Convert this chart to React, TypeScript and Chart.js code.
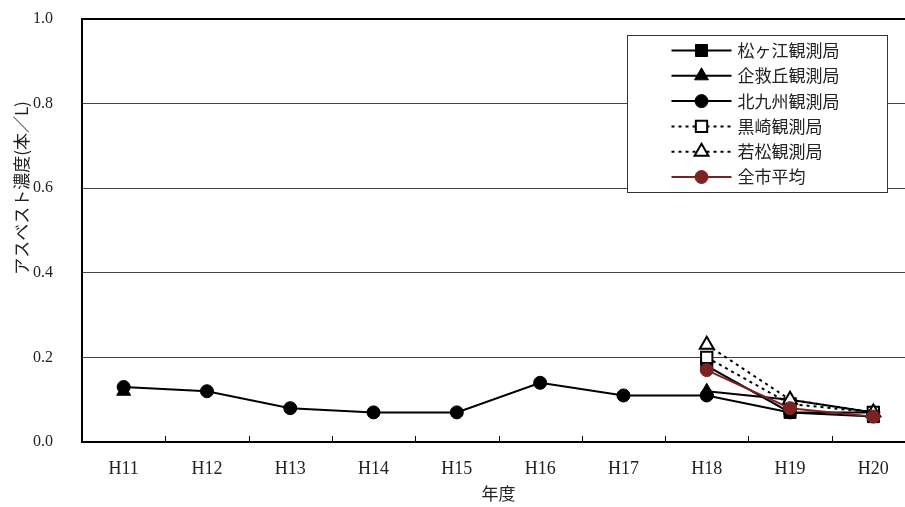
import React, { useEffect, useRef } from 'react';
import { Chart, registerables } from 'chart.js';
import { drawPoint } from 'chart.js/helpers';

Chart.register(...registerables);

const categories = ['H11', 'H12', 'H13', 'H14', 'H15', 'H16', 'H17', 'H18', 'H19', 'H20'];
const matsugae = [null, null, null, null, null, null, null, 0.18, 0.07, 0.06];
const kikugaoka = [0.12, null, null, null, null, null, null, 0.12, 0.10, 0.07];
const kitakyushu = [0.13, 0.12, 0.08, 0.07, 0.07, 0.14, 0.11, 0.11, 0.07, 0.07];
const kurosaki = [null, null, null, null, null, null, null, 0.20, 0.09, 0.07];
const wakamatsu = [null, null, null, null, null, null, null, 0.23, 0.10, 0.07];
const cityAverage = [null, null, null, null, null, null, null, 0.17, 0.08, 0.06];
const yTicks = [0, 0.2, 0.4, 0.6, 0.8, 1.0];

const seriesNames = ['松ヶ江観測局', '企救丘観測局', '北九州観測局', '黒崎観測局', '若松観測局', '全市平均'];
const xTitle = '年度';
const yTitle = 'アスベスト濃度(本／L)';

const SERIF = "'Liberation Serif', 'DejaVu Serif', 'Noto Sans CJK JP', serif";
const JP = "'Noto Sans CJK JP', 'Liberation Serif', serif";
const RED = '#7b2323';

const framePlugin = {
  id: 'frameAndLegend',
  afterDraw(chart: any) {
    const ctx = chart.ctx;
    const area = chart.chartArea;
    const xs = chart.scales.x;
    ctx.save();
    // top border
    ctx.strokeStyle = '#000';
    ctx.lineWidth = 2;
    ctx.setLineDash([]);
    ctx.beginPath();
    ctx.moveTo(area.left, area.top);
    ctx.lineTo(area.right, area.top);
    ctx.stroke();
    // inner tick marks between categories
    ctx.lineWidth = 1;
    for (let i = 0; i < categories.length - 1; i++) {
      const x = Math.round((xs.getPixelForValue(i) + xs.getPixelForValue(i + 1)) / 2) + 0.5;
      ctx.beginPath();
      ctx.moveTo(x, area.bottom);
      ctx.lineTo(x, area.bottom - 6);
      ctx.stroke();
    }
    // y title
    ctx.save();
    ctx.translate(22, 188);
    ctx.rotate(-Math.PI / 2);
    ctx.fillStyle = '#222';
    ctx.font = `17px ${JP}`;
    ctx.textAlign = 'center';
    ctx.textBaseline = 'middle';
    ctx.fillText(yTitle, 0, 0);
    ctx.restore();
    // legend
    const bx = 627.5, by = 35.5, bw = 260, bh = 157;
    ctx.fillStyle = '#fff';
    ctx.fillRect(bx, by, bw, bh);
    ctx.strokeStyle = '#333';
    ctx.lineWidth = 1;
    ctx.strokeRect(bx, by, bw, bh);
    chart.data.datasets.forEach((ds: any, i: number) => {
      const y = by + 15 + i * 25.3;
      ctx.strokeStyle = ds.borderColor;
      ctx.lineWidth = ds.borderWidth;
      ctx.setLineDash(ds.borderDash || []);
      ctx.beginPath();
      ctx.moveTo(bx + 44, y);
      ctx.lineTo(bx + 104, y);
      ctx.stroke();
      ctx.setLineDash([]);
      ctx.fillStyle = ds.pointBackgroundColor;
      ctx.strokeStyle = ds.pointBorderColor;
      ctx.lineWidth = ds.pointBorderWidth;
      drawPoint(ctx, { pointStyle: ds.pointStyle, rotation: 0, radius: ds.pointRadius, borderWidth: ds.pointBorderWidth }, bx + 74, y);
      ctx.fillStyle = '#222';
      ctx.font = `17px ${JP}`;
      ctx.textAlign = 'left';
      ctx.textBaseline = 'middle';
      ctx.fillText(seriesNames[i], bx + 110, y);
    });
    ctx.restore();
  },
};

function makeDataset(label: string, data: (number | null)[], opts: any, order: number) {
  return {
    label,
    data,
    borderColor: '#000',
    borderWidth: 2,
    pointBackgroundColor: '#000',
    pointBorderColor: '#000',
    pointBorderWidth: 1,
    pointHoverRadius: 0,
    spanGaps: false,
    tension: 0,
    order,
    ...opts,
  };
}

export default function App() {
  const canvasRef = useRef<HTMLCanvasElement | null>(null);

  useEffect(() => {
    if (!canvasRef.current) return;
    const chart = new Chart(canvasRef.current, {
      type: 'line',
      data: {
        labels: categories,
        datasets: [
          makeDataset(seriesNames[0], matsugae, { pointStyle: 'rect', pointRadius: 8.5 }, 5),
          makeDataset(seriesNames[1], kikugaoka, { pointStyle: 'triangle', pointRadius: 8 }, 4),
          makeDataset(seriesNames[2], kitakyushu, { pointStyle: 'circle', pointRadius: 6.5 }, 3),
          makeDataset(seriesNames[3], kurosaki, { pointStyle: 'rect', pointRadius: 8, pointBackgroundColor: '#fff', pointBorderWidth: 2, borderDash: [3, 4] }, 2),
          makeDataset(seriesNames[4], wakamatsu, { pointStyle: 'triangle', pointRadius: 8, pointBackgroundColor: '#fff', pointBorderWidth: 2, borderDash: [3, 4] }, 1),
          makeDataset(seriesNames[5], cityAverage, { pointStyle: 'circle', pointRadius: 6.5, borderColor: RED, pointBackgroundColor: RED, pointBorderColor: RED }, 0),
        ],
      },
      options: {
        animation: false,
        responsive: false,
        devicePixelRatio: 1,
        layout: { padding: { top: 19, right: 10, left: 0, bottom: 0 } },
        plugins: {
          legend: { display: false },
          tooltip: { enabled: false },
          title: { display: false },
        },
        scales: {
          x: {
            type: 'category',
            offset: true,
            grid: { display: false, drawTicks: false },
            border: { display: true, color: '#000', width: 2 },
            ticks: { color: '#222', font: { family: SERIF, size: 18 }, padding: 16, maxRotation: 0, autoSkip: false },
            title: { display: true, text: xTitle, color: '#222', font: { family: JP, size: 17 }, padding: { top: 0, bottom: 3 } },
            afterFit: (scale: any) => { scale.height = 65; scale.paddingLeft = 0; scale.paddingRight = 0; },
          },
          y: {
            min: 0,
            max: 1,
            grid: { color: '#444', lineWidth: 1, drawTicks: false },
            border: { display: true, color: '#000', width: 2 },
            ticks: { color: '#222', font: { family: SERIF, size: 16 }, padding: 29, callback: (v: any) => Number(v).toFixed(1) },
            afterBuildTicks: (scale: any) => { scale.ticks = yTicks.map((v) => ({ value: v })); },
            afterFit: (scale: any) => { scale.width = 82; scale.paddingTop = 0; scale.paddingBottom = 0; },
          },
        },
      },
      plugins: [framePlugin],
    });
    return () => chart.destroy();
  }, []);

  return (
    <div style={{ position: 'absolute', left: 0, top: 0, width: 905, height: 507, overflow: 'hidden', background: '#fff' }}>
      <canvas ref={canvasRef} width={925} height={507} style={{ display: 'block' }} />
    </div>
  );
}
